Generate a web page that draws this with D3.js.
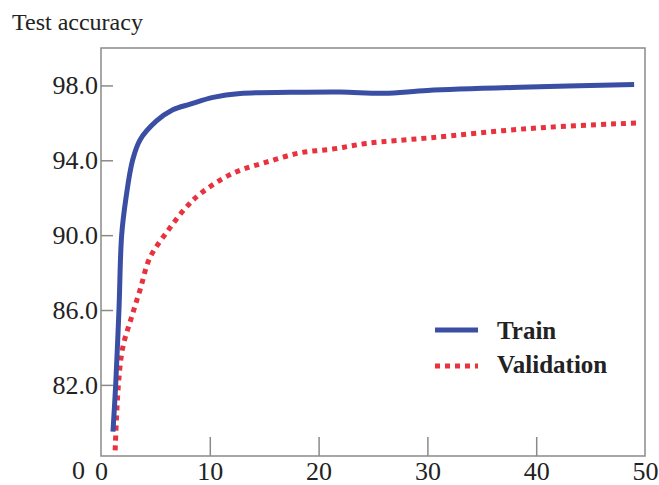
<!DOCTYPE html>
<html>
<head>
<meta charset="utf-8">
<script src="https://cdnjs.cloudflare.com/ajax/libs/d3/7.8.5/d3.min.js"></script>
<style>
  body { margin: 0; background: #fff; }
  text { font-family: "Liberation Serif", "Times New Roman", serif; fill: #222; }
</style>
</head>
<body>
<div id="chart"></div>
<script>
// data
const trainEpochs = [1.1, 1.35, 1.65, 1.9, 2.3, 2.9, 3.6, 5.1, 6.6, 8.2, 10.3, 12.8, 17.4, 22, 26, 30, 38.5, 49];
const trainAcc    = [79.5, 82, 86, 90, 92.0, 94, 95.1, 96.1, 96.7, 97.0, 97.36, 97.57, 97.63, 97.65, 97.58, 97.73, 97.9, 98.05];

const valEpochs = [1.3, 1.6, 2.0, 2.8, 3.6, 4.5, 6.1, 7.7, 9.1, 12.1, 15.2, 18.3, 21.3, 24.4, 30.2, 39.4, 49.4];
const valAcc    = [78.5, 82, 84.0, 85.6, 87.1, 88.8, 90.2, 91.4, 92.2, 93.3, 93.9, 94.4, 94.6, 94.9, 95.2, 95.7, 96.0];

const xTicks = [0, 10, 20, 30, 40, 50];
const yTicks = [82, 86, 90, 94, 98];
const yBottomLabel = "0";
const seriesNames = ["Train", "Validation"];

function main() {
    const margin = {top: 48, right: 14, bottom: 29, left: 101},
        width = 659 - margin.left - margin.right,
        height = 485 - margin.top - margin.bottom;

    const svg = d3.select("#chart")
        .append("svg")
        .attr("width", 659)
        .attr("height", 485)
        .append("g")
        .attr("transform", `translate(${margin.left},${margin.top})`);

    const x = d3.scaleLinear().domain([0, 50]).range([0, width]);
    const y = d3.scaleLinear().domain([78.2, 100]).range([height, 0]);

    // title
    svg.append("text")
        .attr("x", 12 - margin.left)
        .attr("y", 30 - margin.top)
        .attr("font-size", "24px")
        .text("Test accuracy");

    // frame
    svg.append("rect")
        .attr("width", width)
        .attr("height", height)
        .attr("fill", "none")
        .attr("stroke", "#8a8a8a")
        .attr("stroke-width", 1.5);

    // x axis, ticks pointing inward
    const xAxis = svg.append("g")
        .attr("transform", `translate(0,${height})`)
        .call(d3.axisBottom(x).tickValues(xTicks).tickSizeInner(-19).tickSizeOuter(0).tickPadding(6));
    xAxis.select(".domain").remove();
    xAxis.selectAll("line").attr("stroke", "#8a8a8a").attr("stroke-width", 1.5)
        .filter(d => d === 0 || d === 50).remove();
    xAxis.selectAll("text").attr("font-size", "26px").attr("fill", "#222");

    // y axis, ticks pointing inward
    const yAxis = svg.append("g")
        .call(d3.axisLeft(y).tickValues(yTicks).tickFormat(d3.format(".1f")).tickSizeInner(-12).tickSizeOuter(0).tickPadding(3));
    yAxis.select(".domain").remove();
    yAxis.selectAll("line").attr("stroke", "#8a8a8a").attr("stroke-width", 1.5);
    yAxis.selectAll("text").attr("font-size", "26px").attr("fill", "#222");

    // "0" at the foot of the y axis, same baseline as the x labels
    svg.append("text")
        .attr("x", -16)
        .attr("y", y(78.2) + 5)
        .attr("dy", "0.71em")
        .attr("text-anchor", "end")
        .attr("font-size", "26px")
        .text(yBottomLabel);

    const line = d3.line()
        .x(d => x(d[0]))
        .y(d => y(d[1]))
        .curve(d3.curveCatmullRom.alpha(0.5));

    svg.append("path")
        .datum(d3.zip(valEpochs, valAcc))
        .attr("fill", "none")
        .attr("stroke", "#e8323d")
        .attr("stroke-width", 5)
        .attr("stroke-dasharray", "5,5")
        .attr("d", line);

    svg.append("path")
        .datum(d3.zip(trainEpochs, trainAcc))
        .attr("fill", "none")
        .attr("stroke", "#3a4ea3")
        .attr("stroke-width", 5)
        .attr("stroke-linecap", "butt")
        .attr("d", line);

    // legend
    const legend = svg.append("g").attr("transform", `translate(${435 - margin.left},${330 - margin.top})`);
    legend.append("line")
        .attr("x1", 0).attr("x2", 43).attr("y1", 0).attr("y2", 0)
        .attr("stroke", "#3a4ea3").attr("stroke-width", 5);
    legend.append("line")
        .attr("x1", 0).attr("x2", 43).attr("y1", 36).attr("y2", 36)
        .attr("stroke", "#e8323d").attr("stroke-width", 5).attr("stroke-dasharray", "5,5");
    legend.selectAll("text.lab")
        .data(seriesNames)
        .join("text")
        .attr("class", "lab")
        .attr("x", 62)
        .attr("y", (d, i) => 9 + i * 34)
        .attr("font-size", "25px")
        .attr("font-weight", "bold")
        .text(d => d);
}

main()
</script>
</body>
</html>
